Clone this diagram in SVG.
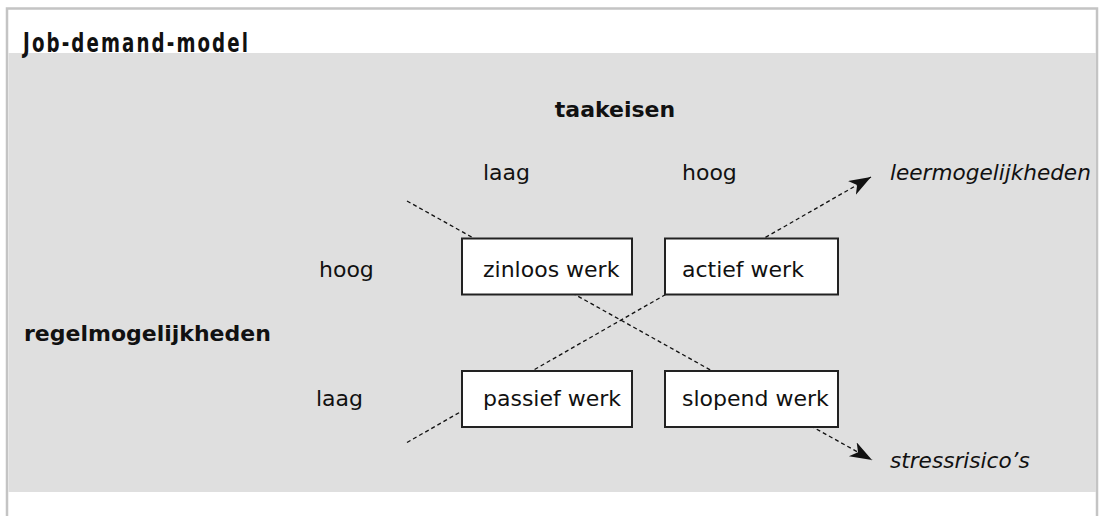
<svg xmlns="http://www.w3.org/2000/svg" width="1100" height="516" viewBox="0 0 1100 516">
<style>
  .lbl { font-family: "DejaVu Sans", "Liberation Sans", sans-serif; font-size: 22px; fill: #111; }
  .bold { font-weight: bold; }
  .ital { font-style: italic; font-size: 21.6px; }
  .box { fill: #ffffff; stroke: #222; stroke-width: 2; }
  .conn { fill: none; stroke: #111; stroke-width: 1.3; stroke-dasharray: 4 3; }
  .title { font-family: "DejaVu Sans Condensed", "DejaVu Sans", sans-serif; font-weight: bold; font-size: 27px; fill: #111; }
</style>
<defs>
  <marker id="arrow" markerUnits="userSpaceOnUse" markerWidth="24" markerHeight="18" refX="22" refY="8" orient="auto">
    <path d="M0,0 L22,8 L0,16 L6,8 z" fill="#111"/>
  </marker>
</defs>
<rect x="0" y="0" width="1100" height="516" fill="#ffffff"/>
<rect x="7" y="8.5" width="1090" height="520" fill="none" stroke="#c4c4c4" stroke-width="2.5"/>
<rect x="8.5" y="53" width="1087.5" height="439" fill="#dfdfdf"/>
<text class="title" transform="translate(23,52) scale(0.75,1)" x="0" y="0" textLength="300" lengthAdjust="spacing">Job-demand-model</text>

<g id="connectors">
  <line class="conn" x1="407" y1="201" x2="872" y2="460" marker-end="url(#arrow)"/>
  <line class="conn" x1="407" y1="442.5" x2="871" y2="177" marker-end="url(#arrow)"/>
</g>

<g id="axis-labels">
  <text class="lbl bold" x="615" y="117" text-anchor="middle">taakeisen</text>
  <text class="lbl" x="483" y="180">laag</text>
  <text class="lbl" x="682" y="180">hoog</text>
  <text class="lbl" x="319" y="277">hoog</text>
  <text class="lbl" x="316" y="406">laag</text>
  <text class="lbl bold" x="24" y="341">regelmogelijkheden</text>
</g>

<g id="node-zinloos">
  <rect class="box" x="462" y="238.5" width="170" height="56"/>
  <text class="lbl" x="483" y="277">zinloos werk</text>
</g>
<g id="node-actief">
  <rect class="box" x="665" y="238.5" width="173" height="56"/>
  <text class="lbl" x="682" y="277">actief werk</text>
</g>
<g id="node-passief">
  <rect class="box" x="462" y="371" width="170" height="56"/>
  <text class="lbl" x="483" y="406">passief werk</text>
</g>
<g id="node-slopend">
  <rect class="box" x="665" y="371" width="173" height="56"/>
  <text class="lbl" x="682" y="406">slopend werk</text>
</g>
<g id="node-leer">
  <text class="lbl ital" x="890" y="180">leermogelijkheden</text>
</g>
<g id="node-stress">
  <text class="lbl ital" x="890" y="468">stressrisico’s</text>
</g>
</svg>
